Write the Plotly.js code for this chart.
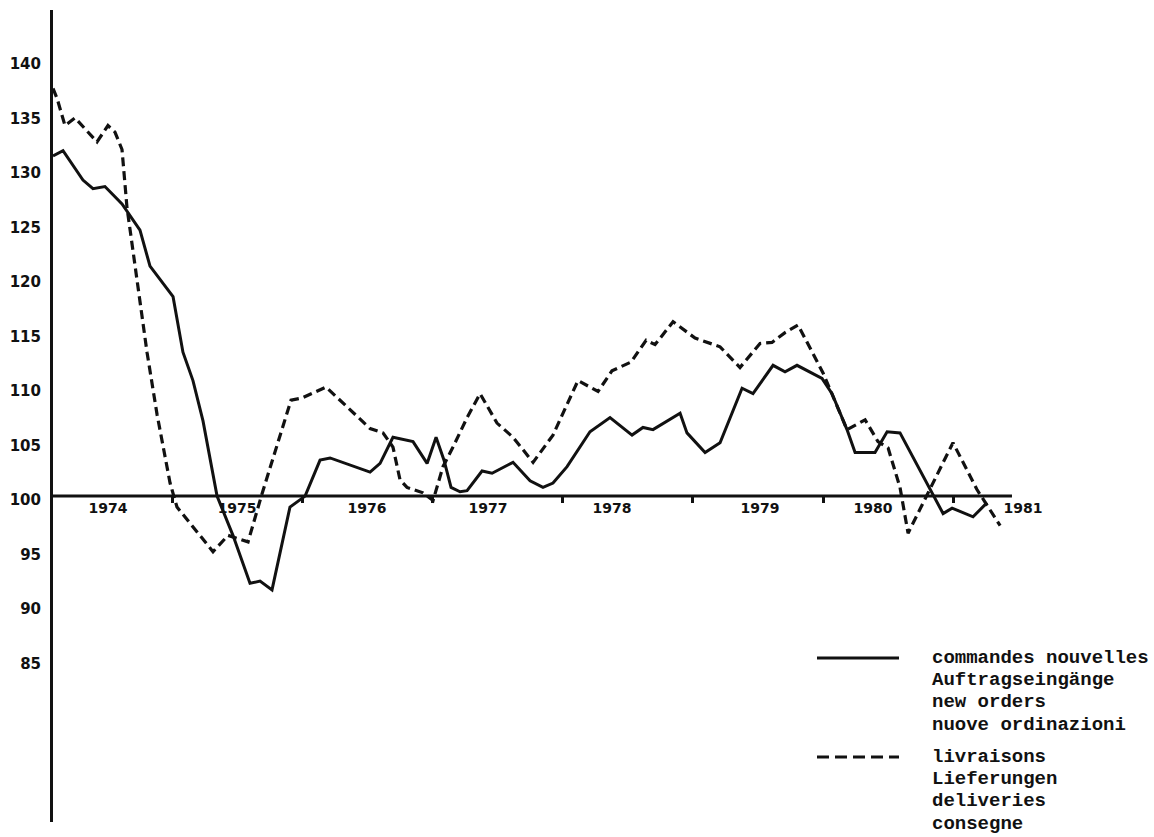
<!DOCTYPE html>
<html>
<head>
<meta charset="utf-8">
<script src="https://cdn.plot.ly/plotly-3.0.1.min.js"></script>
<style>
  html, body { margin: 0; padding: 0; background: #ffffff; }
  #chart { width: 1154px; height: 837px; }
</style>
</head>
<body>
<div id="chart"></div>
<script>
// ---- Data (index values; time in decimal years) ----
const ordersT = [1974.086, 1974.163, 1974.316, 1974.393, 1974.485, 1974.616, 1974.754, 1974.831,
  1975.008, 1975.084, 1975.161, 1975.238, 1975.346, 1975.468, 1975.599, 1975.676, 1975.768, 1975.906,
  1976.022, 1976.137, 1976.214, 1976.521, 1976.598, 1976.697, 1976.851, 1976.959,
  1977.028, 1977.089, 1977.143, 1977.212, 1977.266, 1977.381, 1977.458, 1977.619, 1977.750, 1977.849, 1977.926,
  1978.034, 1978.210, 1978.364, 1978.533, 1978.617, 1978.694, 1978.902, 1978.955,
  1979.094, 1979.209, 1979.378, 1979.462, 1979.616, 1979.708, 1979.800, 1979.992,
  1980.069, 1980.184, 1980.246, 1980.399, 1980.492, 1980.591, 1980.822, 1980.922, 1980.991,
  1981.152, 1981.260];
const ordersV = [131.2, 131.7, 129.0, 128.2, 128.4, 126.8, 124.4, 121.1,
  118.3, 113.2, 110.6, 106.9, 100.0, 96.4, 92.0, 92.2, 91.4, 99.0,
  100.0, 103.3, 103.5, 102.2, 103.0, 105.4, 105.0, 103.0,
  105.4, 103.3, 100.8, 100.4, 100.5, 102.3, 102.1, 103.1, 101.4, 100.8, 101.2,
  102.7, 105.9, 107.2, 105.6, 106.3, 106.1, 107.6, 105.8,
  104.0, 104.9, 109.9, 109.4, 112.0, 111.4, 112.0, 110.8,
  109.4, 106.1, 104.0, 104.0, 105.9, 105.8, 100.6, 98.4, 98.9,
  98.1, 99.4];

const delivT = [1974.086, 1974.117, 1974.178, 1974.255, 1974.424, 1974.508, 1974.562, 1974.616, 1974.654, 1974.731, 1974.808, 1974.885, 1974.985,
  1975.038, 1975.315, 1975.430, 1975.584, 1975.691, 1975.914, 1975.998,
  1976.183, 1976.344, 1976.521, 1976.620, 1976.697, 1976.751, 1976.805, 1976.928,
  1977.005, 1977.081, 1977.158, 1977.266, 1977.366, 1977.496, 1977.619, 1977.773, 1977.926,
  1978.118, 1978.272, 1978.379, 1978.525, 1978.641, 1978.710, 1978.848,
  1979.017, 1979.209, 1979.362, 1979.516, 1979.608, 1979.708, 1979.808,
  1980.000, 1980.069, 1980.184, 1980.323, 1980.422, 1980.500, 1980.591, 1980.653, 1980.822, 1980.998,
  1981.182, 1981.360];
const delivV = [137.4, 136.5, 134.0, 134.7, 132.5, 134.0, 133.4, 131.8, 126.5, 120.1, 113.2, 107.5, 101.2,
  99.0, 94.9, 96.4, 95.8, 100.2, 108.8, 109.0,
  110.0, 108.2, 106.2, 105.8, 104.5, 101.5, 100.8, 100.3,
  99.6, 102.7, 104.5, 107.2, 109.4, 106.7, 105.4, 103.1, 105.6,
  110.6, 109.6, 111.5, 112.3, 114.3, 113.9, 116.0,
  114.5, 113.7, 111.8, 114.0, 114.1, 115.0, 115.7,
  111.3, 109.4, 106.1, 107.0, 105.0, 104.4, 100.8, 96.6, 100.6, 104.9,
  100.6, 97.3];

const xTickPos  = [1974.508, 1975.5, 1976.498, 1977.427, 1978.379, 1979.516, 1980.384, 1981.536];
const xTickText = ['1974', '1975', '1976', '1977', '1978', '1979', '1980', '1981'];
const yearBounds = [1975, 1976, 1977, 1978, 1979, 1980, 1981];
const yTickVals = [85, 90, 95, 100, 105, 110, 115, 120, 125, 130, 135, 140];
const baseValue = 100;

const legendOrders = ['commandes nouvelles', 'Auftragseingänge', 'new orders', 'nuove ordinazioni'];
const legendDeliv  = ['livraisons', 'Lieferungen', 'deliveries', 'consegne'];

// ---- Layout settings ----
const INK = '#111111';
const xRange = [1974.086, 1981.743];
const axisEnd = 1981.451;
const yRange = [70.1, 144.6];

const W = 1154, H = 837;
const M = { l: 53, r: 104, t: 10, b: 15 };
const plotW = W - M.l - M.r, plotH = H - M.t - M.b;
const px = (x) => (x - M.l) / plotW;        // page px -> paper x
const py = (y) => (H - M.b - y) / plotH;    // page px -> paper y

const traces = [
  { x: ordersT, y: ordersV, type: 'scatter', mode: 'lines', name: legendOrders.join(' / '),
    line: { color: INK, width: 3, shape: 'linear' }, showlegend: false, hoverinfo: 'skip' },
  { x: delivT, y: delivV, type: 'scatter', mode: 'lines', name: legendDeliv.join(' / '),
    line: { color: INK, width: 3.2, dash: '9px,5px' }, showlegend: false, hoverinfo: 'skip' }
];

const legendFont = { family: 'Liberation Mono, DejaVu Sans Mono, monospace', size: 19, color: INK, weight: 'bold' };
const annotations = [];
const shapes = [
  { type: 'line', xref: 'x', yref: 'y', x0: xRange[0], x1: axisEnd, y0: baseValue, y1: baseValue,
    line: { color: INK, width: 3 }, layer: 'below' }
];

const textX = 930, sampleX0 = 817, sampleX1 = 899, step = 22.2;
const groups = [
  { lines: legendOrders, top: 658, dash: 'solid' },
  { lines: legendDeliv,  top: 757, dash: '12px,6px' }
];
groups.forEach(g => {
  shapes.push({ type: 'line', xref: 'paper', yref: 'paper',
    x0: px(sampleX0), x1: px(sampleX1), y0: py(g.top), y1: py(g.top),
    line: { color: INK, width: 3, dash: g.dash } });
  g.lines.forEach((t, i) => {
    annotations.push({ xref: 'paper', yref: 'paper', x: px(textX), y: py(g.top + i * step),
      xanchor: 'left', yanchor: 'middle', text: t, showarrow: false, font: legendFont });
  });
});

const layout = {
  width: W, height: H,
  margin: { l: M.l, r: M.r, t: M.t, b: M.b, pad: 0 },
  paper_bgcolor: '#ffffff', plot_bgcolor: '#ffffff',
  showlegend: false,
  xaxis: {
    range: xRange, anchor: 'free',
    position: (baseValue - yRange[0]) / (yRange[1] - yRange[0]),
    showline: false, showgrid: false, zeroline: false,
    tickmode: 'array', tickvals: xTickPos, ticktext: xTickText, ticks: '',
    tickfont: { family: 'DejaVu Sans, sans-serif', size: 14, color: INK, weight: 'bold' },
    ticklabelstandoff: 2,
    minor: { tickmode: 'array', tickvals: yearBounds, ticks: 'outside', ticklen: 6,
             tickwidth: 3, tickcolor: INK, showgrid: false }
  },
  yaxis: {
    range: yRange, showline: true, linewidth: 3, linecolor: INK,
    showgrid: false, zeroline: false,
    tickmode: 'array', tickvals: yTickVals, ticks: '',
    ticklabelshift: 4, ticklabelstandoff: 6,
    tickfont: { family: 'DejaVu Sans, sans-serif', size: 15, color: INK, weight: 'bold' }
  },
  shapes: shapes,
  annotations: annotations
};

Plotly.newPlot('chart', traces, layout, { staticPlot: true, displayModeBar: false });
</script>
</body>
</html>
